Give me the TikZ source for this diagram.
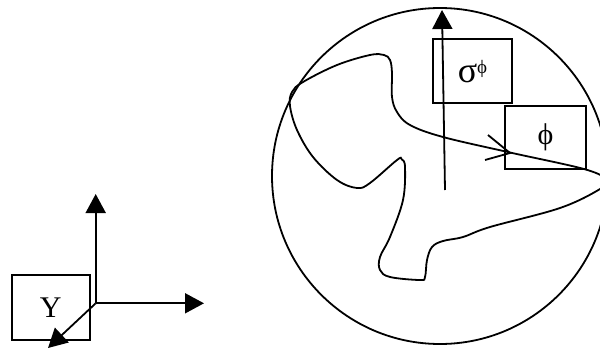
\documentclass[tikz,border=0pt]{standalone}
\usepackage{fontspec}
\setmainfont{Liberation Serif}
\usetikzlibrary{arrows.meta}
\begin{document}
\begin{tikzpicture}[x=1pt,y=-1pt,
  line width=1.8pt,
  box/.style={draw, line width=1.8pt, inner sep=0pt, font=\fontsize{30}{36}\selectfont},
  axis/.style={line width=1.8pt, -{Triangle[length=19pt,width=20pt]}},
]
\useasboundingbox (0,0) rectangle (600,351);
\clip (0,0) rectangle (600,351);
% left frame
\node[box, minimum width=78pt, minimum height=65pt] (ybox) at (50.8,307.5) {Y};
\coordinate (o) at (95.7,303.3);
\coordinate (up) at (95.7,194);
\coordinate (rt) at (204,303.3);
\coordinate (dg) at (48,348);
\draw[axis] (o) -- (up);
\draw[axis] (o) -- (rt);
\draw[axis] (o) -- (dg);
% circle
\coordinate (c) at (440,176);
\draw[line width=1.8pt] (c) circle[radius=168];
% curve
\draw[line width=1.8pt] plot[smooth cycle, tension=0.6] coordinates {
 (290,106) (292,92) (303,82) (337,65) (370,55) (384,55) (390,60) (392,73)
 (392,97) (397,112) (410,125) (443,137) (510,152.5) (585,169.3) (606,180)
 (600,189) (560,208) (490,227) (463,237) (443,241) (432,247) (427,260)
 (425,277) (420,280) (390,277) (380,270) (380,257) (390,237) (403,200)
 (405,167) (401.7,159.3) (397,160) (370,183) (357,188) (337,180) (313,157)
 (297,130)};
% boxes
\node[box, minimum width=78.4pt, minimum height=64pt] (sbox) at (472.5,71.3) {{\fontsize{36}{40}\selectfont σ}\raisebox{9pt}{\fontsize{19}{20}\selectfont ϕ}};
\node[box, minimum width=81pt, minimum height=63.3pt] (pbox) at (545.5,137.7) {ϕ};
% vertical arrow
\coordinate (vb) at (445,190);
\coordinate (vt) at (442,10);
\draw[axis] (vb) -- (vt);
% small open arrow on curve
\coordinate (at) at (510,153);
\coordinate (a1) at (488,135);
\coordinate (a2) at (485,160);
\draw[line width=1.8pt] (a1) -- (at) -- (a2);
\end{tikzpicture}
\end{document}
